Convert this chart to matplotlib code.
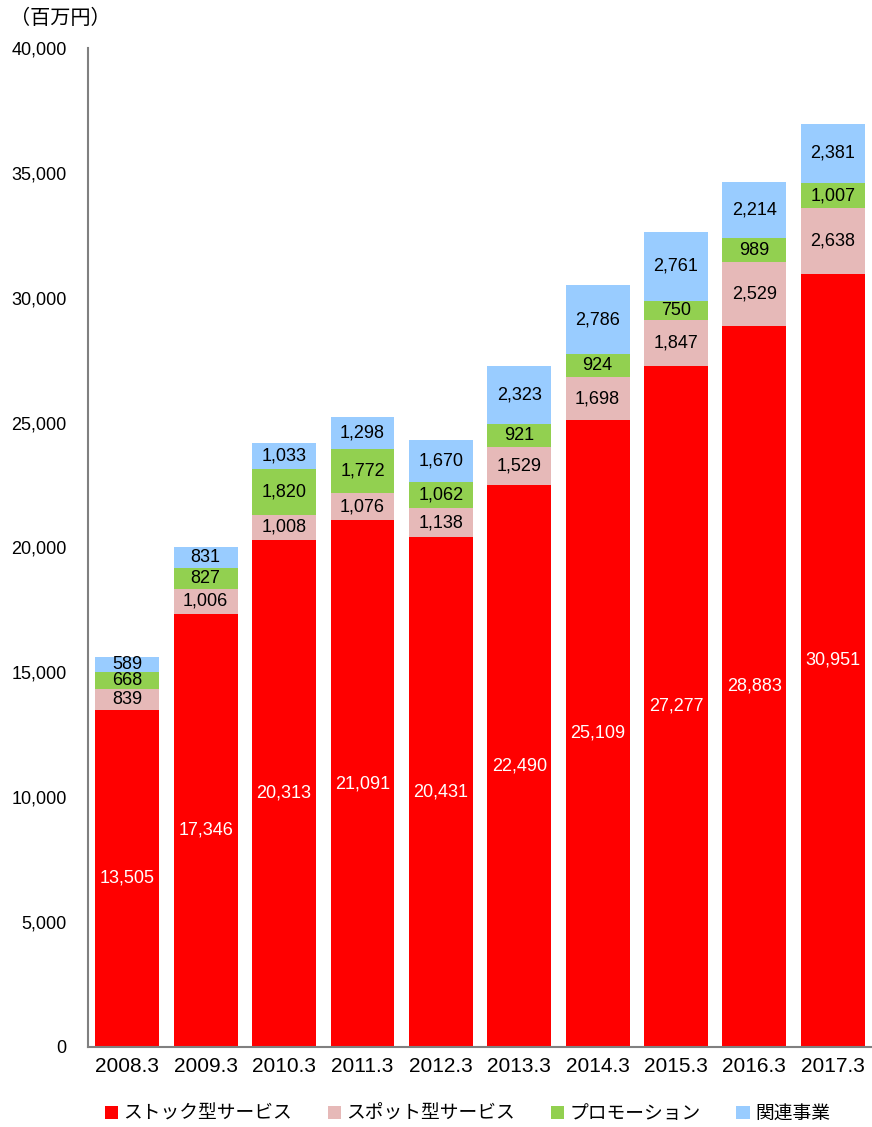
import matplotlib
matplotlib.use("Agg")
import matplotlib.pyplot as plt
import numpy as np

categories = ["2008.3", "2009.3", "2010.3", "2011.3", "2012.3", "2013.3", "2014.3", "2015.3", "2016.3", "2017.3"]
series_names = ["ストック型サービス", "スポット型サービス", "プロモーション", "関連事業"]
stock = [13505, 17346, 20313, 21091, 20431, 22490, 25109, 27277, 28883, 30951]
spot = [839, 1006, 1008, 1076, 1138, 1529, 1698, 1847, 2529, 2638]
promo = [668, 827, 1820, 1772, 1062, 921, 924, 750, 989, 1007]
related = [589, 831, 1033, 1298, 1670, 2323, 2786, 2761, 2214, 2381]
colors = ["#FF0000", "#E6B9B8", "#92D050", "#99CCFF"]
label_colors = ["white", "black", "black", "black"]
yticks = [0, 5000, 10000, 15000, 20000, 25000, 30000, 35000, 40000]

num_font = ["Liberation Sans", "DejaVu Sans"]
jp_font = ["Noto Sans CJK JP", "DejaVu Sans"]

fig = plt.figure(figsize=(8.72, 11.27), dpi=100)
ax = fig.add_axes([0.101, 0.071, 0.899, 0.8864])

x = np.arange(len(categories))
bottom = np.zeros(len(categories))
handles = []
for vals, col, lc, name in zip([stock, spot, promo, related], colors, label_colors, series_names):
    vals = np.array(vals, dtype=float)
    bars = ax.bar(x, vals, bottom=bottom, width=0.815, color=col, label=name)
    handles.append(bars)
    for xi, b, v in zip(x, bottom, vals):
        ax.text(xi, b + v / 2, f"{int(v):,}", ha="center", va="center",
                color=lc, fontsize=13, family=num_font)
    bottom += vals

ax.set_xlim(-0.5, len(categories) - 0.5)
ax.set_ylim(0, 40000)
ax.set_yticks(yticks)
ax.set_yticklabels([f"{v:,}" for v in yticks], family=num_font, fontsize=13)
ax.set_xticks(x)
ax.set_xticklabels(categories, family=num_font, fontsize=15)
ax.tick_params(axis="both", length=0)
ax.tick_params(axis="y", pad=15.5)
ax.tick_params(axis="x", pad=7)
for s in ["top", "right"]:
    ax.spines[s].set_visible(False)
for s in ["left", "bottom"]:
    ax.spines[s].set_color("#808080")
    ax.spines[s].set_linewidth(1.5)

fig.text(0.011, 0.984, "（百万円）", family=jp_font, fontsize=14.5, ha="left", va="center")

leg = fig.legend(handles=handles, labels=series_names, loc="center", bbox_to_anchor=(0.536, 0.012),
                 ncol=4, frameon=False, prop={"family": jp_font, "size": 13.5},
                 handlelength=0.7, handleheight=0.7, handletextpad=0.3, columnspacing=1.9)

fig.savefig("out.png", dpi=100)
